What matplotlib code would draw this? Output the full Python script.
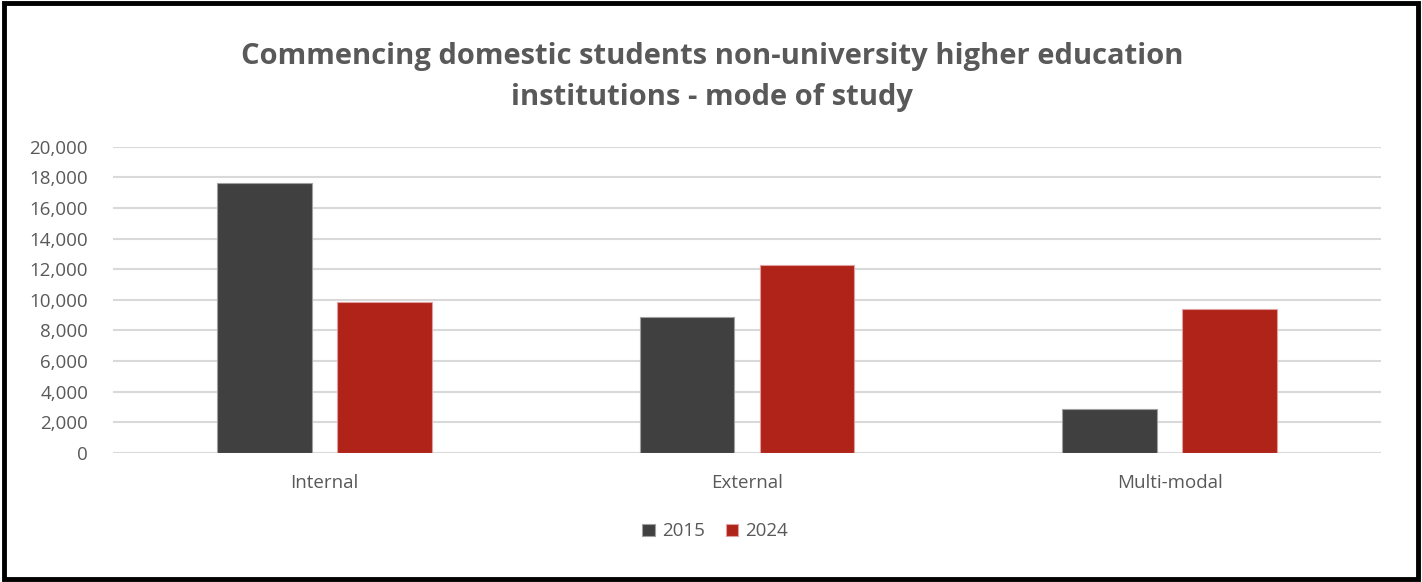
import numpy as np
import matplotlib.pyplot as plt
import matplotlib.patches as patches
from matplotlib.ticker import FuncFormatter

# Données
categories = ["Internal", "External", "Multi-modal"]
series_names = ["2015", "2024"]
values_2015 = [17650, 8910, 2870]
values_2024 = [9870, 12280, 9390]
colors = ["#404040", "#B02318"]

plt.rcParams['font.family'] = ['Open Sans', 'DejaVu Sans']

fig = plt.figure(figsize=(14.22, 5.82), dpi=100)
ax = fig.add_axes([0.0795, 0.2216, 0.8916, 0.5264])

x = np.arange(len(categories))
width = 0.224
offset = 0.142
ax.bar(x - offset, values_2015, width, color=colors[0], edgecolor='#a0a0a0',
       linewidth=0.8, label=series_names[0], zorder=3)
ax.bar(x + offset, values_2024, width, color=colors[1], edgecolor='#e0a0a0',
       linewidth=0.8, label=series_names[1], zorder=3)

ax.set_xlim(-0.5, 2.5)
ax.set_ylim(0, 20000)
ax.set_yticks(np.arange(0, 20001, 2000))
ax.yaxis.set_major_formatter(FuncFormatter(lambda v, p: f"{int(v):,}"))
ax.set_xticks(x)
ax.set_xticklabels(categories)
ax.tick_params(axis='both', length=0, labelsize=13.5, colors='#595959')
ax.tick_params(axis='y', pad=18)
ax.tick_params(axis='x', pad=15)
ax.grid(axis='y', color='#d9d9d9', linewidth=1.5, zorder=0)
for s in ax.spines.values():
    s.set_visible(False)

fig.suptitle("Commencing domestic students non-university higher education\ninstitutions - mode of study",
             x=0.501, y=0.928, fontsize=21, fontweight='bold', color='#595959',
             linespacing=1.55)

fig.legend(loc='center', bbox_to_anchor=(0.503, 0.087), ncol=2, frameon=False,
           fontsize=13.5, labelcolor='#595959', handlelength=0.65, handleheight=0.65,
           handletextpad=0.4, columnspacing=1.1)

# Cadre noir
fig.patches.append(patches.Rectangle((0.003, 0.006), 0.994, 0.988, transform=fig.transFigure,
                                     fill=False, edgecolor='black', linewidth=3.5))

fig.savefig("out.png", dpi=100, facecolor='white')
